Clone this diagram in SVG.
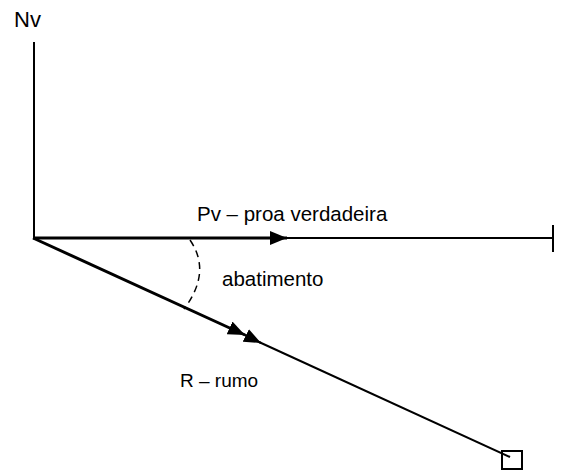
<svg xmlns="http://www.w3.org/2000/svg" width="562" height="473" viewBox="0 0 562 473">
<defs>
<style>
text{font-family:"Liberation Sans",Arial,sans-serif;fill:#000}
.thick{stroke:#000;stroke-width:3;fill:none}
.thin{stroke:#000;stroke-width:2;fill:none}
</style>
<marker id="ah" markerUnits="userSpaceOnUse" markerWidth="18" markerHeight="14" refX="17" refY="7" orient="auto" viewBox="0 0 18 14">
<path d="M0,0 L17,7 L0,14 Z" fill="#000"/>
</marker>
</defs>
<rect width="562" height="473" fill="#fff"/>
<g id="connectors">
<line class="thin" x1="34" y1="42" x2="34" y2="239"/>
<line class="thick" x1="33" y1="238" x2="287" y2="238" marker-end="url(#ah)"/>
<line class="thin" x1="285" y1="238" x2="553" y2="238"/>
<line class="thin" x1="553" y1="225" x2="553" y2="252"/>
<line class="thick" x1="33" y1="238" x2="245" y2="335" marker-end="url(#ah)"/>
<line class="thin" x1="244" y1="334.5" x2="261" y2="343" marker-end="url(#ah)"/>
<line class="thin" x1="259" y1="342" x2="510" y2="457"/>
<path d="M190,240 Q212,272 184,309" stroke="#000" stroke-width="1.5" fill="none" stroke-dasharray="7,5"/>
</g>
<g id="end-square"><rect x="502" y="451" width="20" height="18" class="thin"/></g>
<g id="labels">
<text x="14" y="27" font-size="22">Nv</text>
<text x="197" y="221" font-size="20.5">Pv – proa verdadeira</text>
<text x="222" y="286" font-size="20.5">abatimento</text>
<text x="180" y="387" font-size="19">R – rumo</text>
</g>
</svg>
